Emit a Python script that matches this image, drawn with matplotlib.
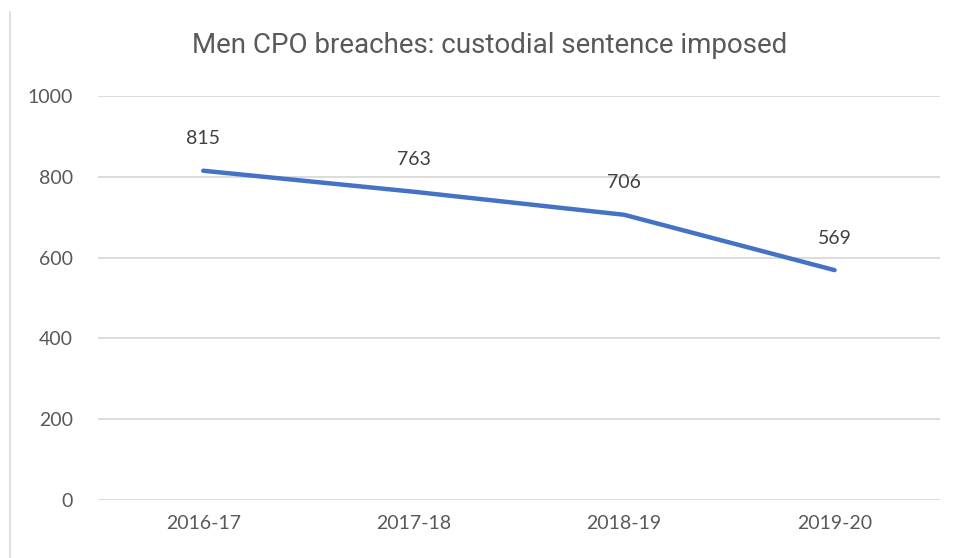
import matplotlib.pyplot as plt
from matplotlib.lines import Line2D

years = ["2016-17", "2017-18", "2018-19", "2019-20"]
custodial = [815, 763, 706, 569]
y_ticks = [0, 200, 400, 600, 800, 1000]

plt.rcParams['font.family'] = ['Lato', 'DejaVu Sans']

fig = plt.figure(figsize=(9.57, 5.58), dpi=100)
ax = fig.add_axes([0.1024, 0.1039, 0.8796, 0.7241])

x = range(len(years))
ax.plot(x, custodial, color='#4472C4', linewidth=3.2, solid_capstyle='round', zorder=3)

for xi, v in zip(x, custodial):
    ax.annotate(str(v), (xi, v), xytext=(0, 23), textcoords='offset points',
                ha='center', va='center', fontsize=14, color='#404040')

ax.set_xlim(-0.5, len(years) - 0.5)
ax.set_ylim(0, 1000)
ax.set_yticks(y_ticks)
ax.set_xticks(list(x))
ax.set_xticklabels(years)
ax.grid(axis='y', color='#D9D9D9', linewidth=1.3)
ax.set_axisbelow(True)
for s in ax.spines.values():
    s.set_visible(False)
ax.tick_params(length=0, labelsize=14, labelcolor='#595959')
ax.tick_params(axis='y', pad=18)
ax.tick_params(axis='x', pad=11)

fig.text(0.512, 0.918, "Men CPO breaches: custodial sentence imposed",
         ha='center', va='center', fontsize=20, color='#595959',
         family=['Roboto', 'DejaVu Sans'])

fig.add_artist(Line2D([9.5 / 957, 9.5 / 957], [0, 1 - 12 / 558],
                      transform=fig.transFigure, color='#D9D9D9', linewidth=1.2))

fig.savefig("out.png", dpi=100)
